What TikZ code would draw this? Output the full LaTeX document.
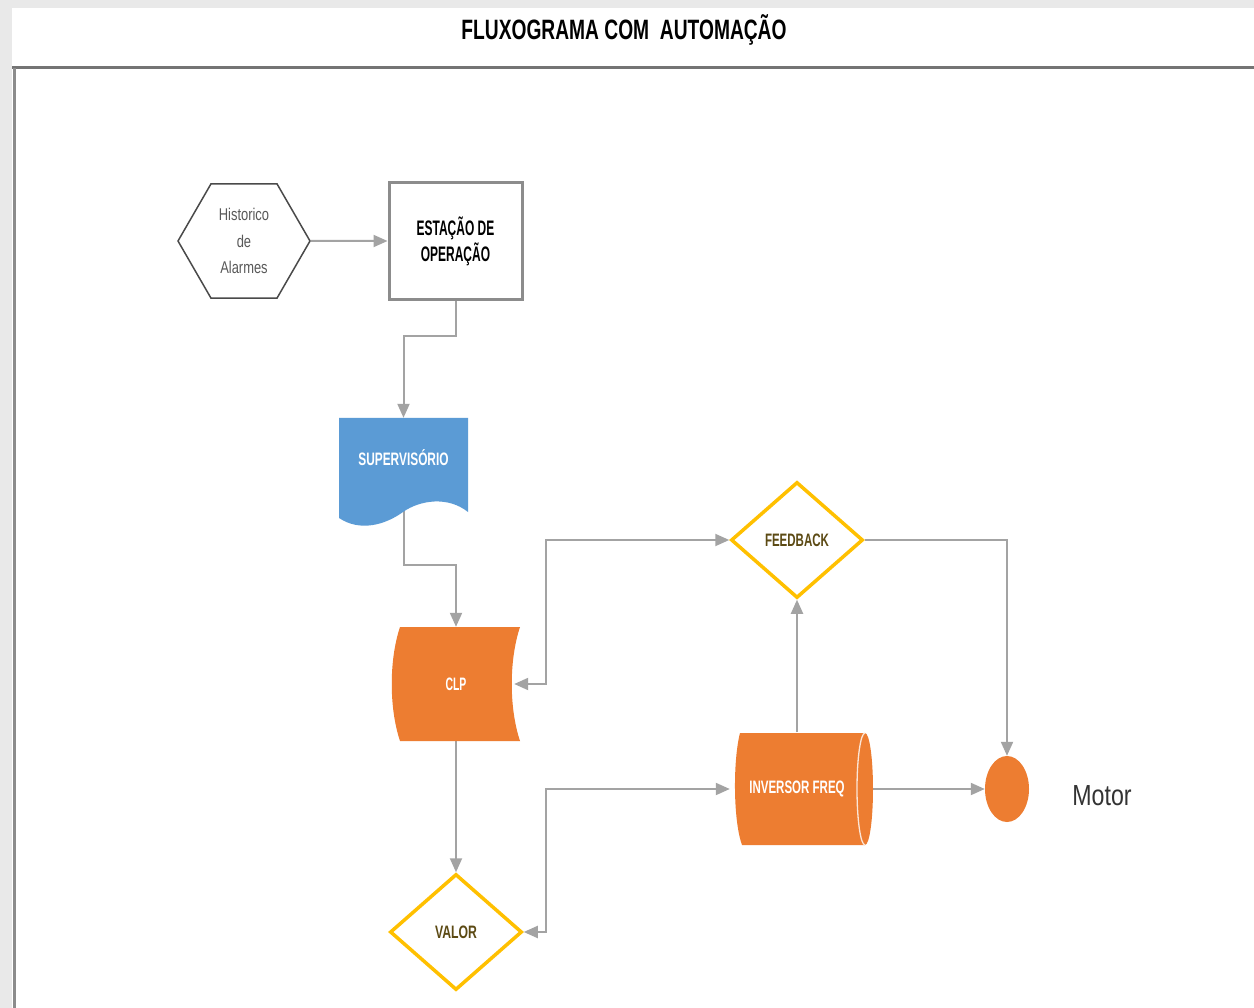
\documentclass[tikz,border=0pt]{standalone}
\usepackage{fontspec}
\setmainfont{Liberation Sans}
\usepackage{graphicx}
\usetikzlibrary{shapes.geometric,arrows.meta}
\definecolor{cgray}{HTML}{A3A3A3}
\definecolor{bgray}{HTML}{E9E9E9}
\definecolor{frameg}{HTML}{747474}
\definecolor{boxg}{HTML}{8C8C8C}
\definecolor{hexg}{HTML}{4A4A4A}
\definecolor{sblue}{HTML}{5B9BD5}
\definecolor{sorange}{HTML}{ED7D31}
\definecolor{syellow}{HTML}{FFC000}
\definecolor{fbtext}{HTML}{5C4A14}
\definecolor{mottext}{HTML}{333333}
\pgfdeclarelayer{bg}
\pgfdeclarelayer{lines}
\pgfsetlayers{bg,lines,main}
\newcommand\sq[2]{\scalebox{#1}[1]{#2}}
\tikzset{
  conn/.style={draw=cgray, line width=2pt, -{Triangle[length=14pt,width=12pt]}},
  conn2/.style={draw=cgray, line width=2pt, {Triangle[length=14pt,width=12pt]}-{Triangle[length=14pt,width=12pt]}},
  decis/.style={diamond, draw=syellow, line width=3.5pt, fill=white, inner sep=0pt,
    minimum width=132pt, minimum height=116pt, text=fbtext, font=\fontsize{18}{20}\selectfont\bfseries},
  procbox/.style={rectangle, draw=boxg, line width=3pt, fill=white, minimum width=133pt,
    minimum height=117pt, align=center, font=\fontsize{21}{26}\selectfont\bfseries, text=black},
  hexa/.style={regular polygon, regular polygon sides=6, minimum size=132pt, inner sep=0pt,
    draw=hexg, line width=1.5pt, fill=white, align=center, text=black!65,
    font=\fontsize{17}{26.5}\selectfont},
  plain/.style={inner sep=0pt, text=white, font=\fontsize{18}{20}\selectfont\bfseries}
}
\begin{document}
\begin{tikzpicture}[x=1pt,y=-1pt]
\useasboundingbox (0,0) rectangle (1254,1008);
\begin{pgfonlayer}{bg}
  \fill[bgray] (0,0) rectangle (1254,1008);
  \fill[white] (12,8) rectangle (1254,1008);
  \draw[frameg, line width=3pt] (12,68) -- (1254,68);
  \draw[boxg, line width=3pt] (14,68) -- (14,1008);
\end{pgfonlayer}

% title
\node[font=\fontsize{28}{30}\selectfont\bfseries] (title) at (624,30) {\sq{0.686}{FLUXOGRAMA COM\ \ AUTOMAÇÃO}};

% shapes with custom outlines
\fill[sblue] (339,418) -- (468,418) -- (468,512) .. controls (448,496) and (420,500) .. (403,512)
   .. controls (385,525) and (360,532) .. (339,518) -- cycle;
\fill[sorange] (400,627) -- (520,627) .. controls (509,660) and (509,708) .. (520,741)
   -- (400,741) .. controls (389,708) and (389,660) .. (400,627) -- cycle;
\fill[sorange] (740,733) -- (865,733) arc[start angle=-90, end angle=90, x radius=8, y radius=56]
   -- (742,845) .. controls (733,820) and (733,760) .. (740,733) -- cycle;
\draw[white!80!sorange, line width=1.3pt] (865,733) arc[start angle=-90, end angle=-270, x radius=8, y radius=56];

% nodes
\node[hexa] (hist) at (244,241) {\sq{0.76}{Historico}\\\sq{0.76}{de}\\\sq{0.76}{Alarmes}};
\node[procbox] (est) at (455.5,241) {\sq{0.57}{ESTAÇÃO DE}\\\sq{0.57}{OPERAÇÃO}};
\node[plain, minimum width=129pt, minimum height=80pt] (sup) at (403.5,458) {\sq{0.66}{SUPERVISÓRIO}};
\node[plain, minimum width=116pt, minimum height=114pt] (clp) at (456,684) {\sq{0.58}{CLP}};
\node[decis] (fb) at (797,540) {\sq{0.64}{FEEDBACK}};
\node[decis] (val) at (456,932) {\sq{0.68}{VALOR}};
\node[plain, minimum width=134pt, minimum height=113pt] (inv) at (797,789) {\sq{0.64}{INVERSOR FREQ}};
\node[ellipse, fill=sorange, inner sep=0pt, minimum width=44pt, minimum height=66pt] (mot) at (1007,789) {};
\node[font=\fontsize{29}{30}\selectfont, text=mottext] (motl) at (1102,796) {\sq{0.8}{Motor}};

\coordinate (j1) at (546,540);
\coordinate (j2) at (546,932);

% connectors
\begin{pgfonlayer}{lines}
  \draw[conn] (hist.east) -- (est.west);
  \draw[conn] (est.south) -- ++(0,35) -| (sup.north);
  \draw[conn] (sup.south) -- ++(0,67) -| (clp.north);
  \draw[conn] (clp.south) -- (val.north);
  \draw[conn2] (fb.west) -- (j1) |- (clp.east);
  \draw[conn] (fb.east) -| (mot.north);
  \draw[conn] (inv.north) -- (fb.south);
  \draw[conn2] (val.east) -- (j2) |- (inv.west);
  \draw[conn] (inv.east) -- (mot.west);
\end{pgfonlayer}
\end{tikzpicture}
\end{document}
